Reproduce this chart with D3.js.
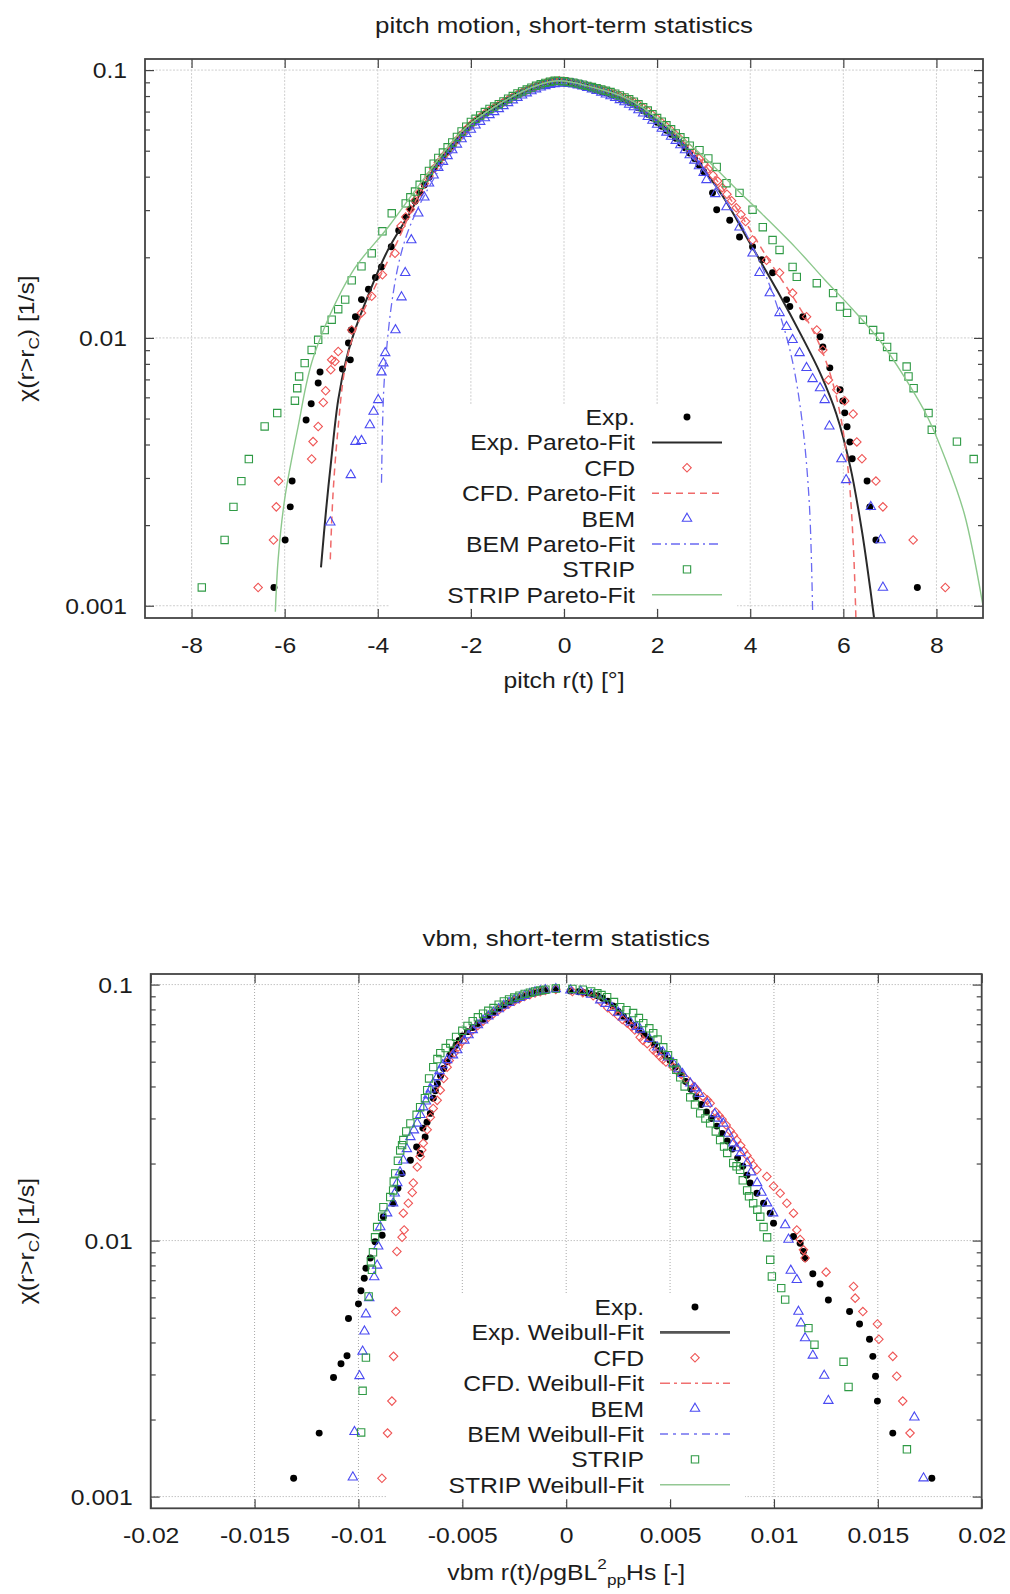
<!DOCTYPE html>
<html>
<head>
<meta charset="utf-8">
<script src="https://cdn.jsdelivr.net/npm/d3@7"></script>
<style>
  body { margin: 0; background: #fff; }
  svg { display: block; }
</style>
</head>
<body>
<svg id="chart" width="1010" height="1594"></svg>
<script>
// ---------------- DATA ----------------
const yDomain = [0.0009, 0.11];
const yMajorTicks = [0.1, 0.01, 0.001];
const yMajorLabels = ["0.1", "0.01", "0.001"];
const yMinorTicks = [0.002, 0.003, 0.004, 0.005, 0.006, 0.007, 0.008, 0.009,
                     0.02, 0.03, 0.04, 0.05, 0.06, 0.07, 0.08, 0.09];

const pitchXTicks = [-8, -6, -4, -2, 0, 2, 4, 6, 8];
const pitchXTickLabels = ["-8", "-6", "-4", "-2", "0", "2", "4", "6", "8"];
const vbmXTicks = [-0.02, -0.015, -0.01, -0.005, 0, 0.005, 0.01, 0.015, 0.02];
const vbmXTickLabels = ["-0.02", "-0.015", "-0.01", "-0.005", "0", "0.005", "0.01", "0.015", "0.02"];

const pitchLegendLabels = ["Exp.", "Exp. Pareto-Fit", "CFD", "CFD. Pareto-Fit", "BEM", "BEM Pareto-Fit", "STRIP", "STRIP Pareto-Fit"];
const vbmLegendLabels = ["Exp.", "Exp. Weibull-Fit", "CFD", "CFD. Weibull-Fit", "BEM", "BEM Weibull-Fit", "STRIP", "STRIP Weibull-Fit"];

// ---- pitch: Exp. (black dots)
const pitchExpX = [-6.23,-5.99,-5.88,-5.84,-5.54,-5.43,-5.28,-5.24,-4.76,-4.63,-4.59,-4.57,-4.48,-4.35,-4.2,-4.05,-3.92,-3.71,-3.55,
  -3.4,-3.2,-3.0,-2.8,-2.6,-2.4,-2.2,-2.0,-1.8,-1.6,-1.4,-1.2,-1.0,-0.8,-0.6,-0.4,-0.2,0.0,0.2,0.4,0.6,0.8,1.0,1.2,1.4,1.6,1.8,2.0,2.2,2.4,2.6,2.8,3.0,
  3.19,3.28,3.56,3.77,4.05,4.25,4.48,4.78,4.85,5.13,5.5,5.56,5.71,5.93,5.99,6.03,6.08,6.14,6.19,6.51,6.57,6.7,7.59,
  -3.3,-3.1,-2.9,-2.7,-2.5,-2.3,-2.1,-1.9,-1.7,-1.5,-1.3,-1.1,-0.9,-0.7,-0.5,-0.3,-0.1,0.1,0.3,0.5,0.7,0.9,1.1,1.3,1.5,1.7,1.9,2.1,2.3,2.5,2.7,2.9];
const pitchExpY = [0.00117,0.00176,0.00234,0.00292,0.00494,0.00568,0.00679,0.00746,0.00766,0.00957,0.00828,0.0107,0.0120,0.0139,0.0152,0.0168,0.0184,0.0219,0.0252,
  0.0282,0.0324,0.0372,0.0427,0.0473,0.0519,0.0575,0.0624,0.0664,0.0705,0.0738,0.0773,0.0809,0.0838,0.0867,0.0891,0.0908,0.0902,0.0887,0.0871,0.0851,0.0832,0.0813,0.0785,0.0759,0.0724,0.0684,0.0638,0.0596,0.0556,0.0513,0.0468,0.0417,
  0.0348,0.0301,0.0275,0.0238,0.0219,0.0196,0.0175,0.0139,0.0131,0.0120,0.0101,0.00925,0.00773,0.00640,0.00582,0.00525,0.00466,0.00409,0.00354,0.00292,0.00234,0.00176,0.00117,
  0.0302,0.0348,0.0398,0.0450,0.0495,0.0546,0.0600,0.0645,0.0686,0.0722,0.0756,0.0792,0.0824,0.0853,0.0880,0.0900,0.0906,0.0895,0.0880,0.0862,0.0842,0.0823,0.0800,0.0773,0.0742,0.0705,0.0662,0.0617,0.0576,0.0534,0.0490,0.0442];

// ---- pitch: CFD (red diamonds)
const pitchCfdX = [-6.57,-6.24,-6.18,-6.13,-5.42,-5.39,-5.28,-5.17,-5.12,-5.01,-4.99,-4.92,-4.85,-4.56,-4.35,-4.13,-3.9,-3.63,
  -3.5,-3.3,-3.1,-2.9,-2.7,-2.5,-2.3,-2.1,-1.9,-1.7,-1.5,-1.3,-1.1,-0.9,-0.7,-0.5,-0.3,-0.1,0.1,0.3,0.5,0.7,0.9,1.1,1.3,1.5,1.7,1.9,2.1,2.3,2.5,2.7,2.9,3.1,3.3,3.5,3.7,3.9,
  4.05,4.35,4.63,4.91,5.21,5.43,5.56,5.68,5.86,6.03,6.21,6.29,6.4,6.7,6.85,7.5,8.19,
  -3.4,-3.2,-3.0,-2.8,-2.6,-2.4,-2.2,-2.0,-1.8,-1.6,-1.4,-1.2,-1.0,-0.8,-0.6,-0.4,-0.2,0.0,0.2,0.4,0.6,0.8,1.0,1.2,1.4,1.6,1.8,2.0,2.2,2.4,2.6,2.8,3.0,3.2,3.4,3.6,3.8];
const pitchCfdY = [0.00117,0.00176,0.00234,0.00292,0.00353,0.0041,0.00467,0.00574,0.00635,0.0076,0.00828,0.00817,0.0089,0.0107,0.0124,0.0143,0.0172,0.0207,
  0.0262,0.0302,0.0350,0.0402,0.0452,0.0497,0.0548,0.0601,0.0646,0.0688,0.0724,0.0758,0.0793,0.0826,0.0855,0.0882,0.0902,0.0912,0.0902,0.0888,0.0872,0.0852,0.0835,0.0812,0.0788,0.0760,0.0724,0.0680,0.0636,0.0595,0.0552,0.0510,0.0468,0.0427,0.0385,0.0344,0.0306,0.0272,
  0.0232,0.0195,0.0175,0.0147,0.0120,0.0107,0.00902,0.00697,0.0064,0.00582,0.0052,0.00409,0.00354,0.00292,0.00234,0.00176,0.00117,
  0.0283,0.0326,0.0377,0.0428,0.0476,0.0522,0.0575,0.0625,0.0668,0.0707,0.0742,0.0776,0.0810,0.0841,0.0869,0.0893,0.0909,0.0908,0.0896,0.0880,0.0862,0.0844,0.0824,0.0800,0.0775,0.0743,0.0703,0.0658,0.0615,0.0574,0.0531,0.0489,0.0447,0.0405,0.0364,0.0325,0.0289];

// ---- pitch: BEM (blue triangles)
const pitchBemX = [-5.02,-4.58,-4.48,-4.35,-4.17,-4.09,-3.99,-3.92,-3.88,-3.84,-3.62,-3.49,-3.41,-3.28,-3.13,-3.0,
  -2.9,-2.7,-2.5,-2.3,-2.1,-1.9,-1.7,-1.5,-1.3,-1.1,-0.9,-0.7,-0.5,-0.3,-0.1,0.1,0.3,0.5,0.7,0.9,1.1,1.3,1.5,1.7,1.9,2.1,2.3,2.5,2.7,2.9,
  3.06,3.25,3.49,3.77,4.05,4.2,4.42,4.63,4.78,4.91,5.06,5.21,5.34,5.5,5.6,5.7,5.96,6.06,6.59,6.8,6.85,
  -2.8,-2.6,-2.4,-2.2,-2.0,-1.8,-1.6,-1.4,-1.2,-1.0,-0.8,-0.6,-0.4,-0.2,0.0,0.2,0.4,0.6,0.8,1.0,1.2,1.4,1.6,1.8,2.0,2.2,2.4,2.6,2.8,3.0];
const pitchBemY = [0.00205,0.00308,0.0041,0.00413,0.00473,0.00531,0.00587,0.00745,0.00805,0.00879,0.0107,0.0142,0.0175,0.0232,0.0292,0.0335,
  0.0378,0.0432,0.0478,0.0528,0.0578,0.0622,0.0662,0.0698,0.0735,0.0772,0.0805,0.0835,0.0862,0.0882,0.0893,0.0890,0.0878,0.0860,0.0838,0.0812,0.0788,0.0760,0.0728,0.0690,0.0648,0.0605,0.0565,0.0525,0.0482,0.0438,
  0.0389,0.0345,0.0308,0.0259,0.0207,0.0175,0.0147,0.0124,0.0110,0.00984,0.00879,0.00773,0.00703,0.0065,0.00587,0.00468,0.00353,0.00295,0.00234,0.00176,0.00117,
  0.0405,0.0455,0.0503,0.0553,0.0600,0.0642,0.0680,0.0716,0.0754,0.0789,0.0820,0.0849,0.0873,0.0888,0.0892,0.0885,0.0870,0.0849,0.0825,0.0800,0.0774,0.0744,0.0709,0.0669,0.0626,0.0585,0.0545,0.0503,0.0460,0.0414];

// ---- pitch: STRIP (green squares)
const pitchStripX = [-7.78,-7.29,-7.1,-6.93,-6.77,-6.43,-6.16,-5.78,-5.73,-5.69,-5.57,-5.42,-5.28,-5.14,-4.99,-4.85,-4.7,-4.56,-4.35,-4.13,-3.9,-3.7,
  -3.4,-3.2,-3.0,-2.8,-2.6,-2.4,-2.2,-2.0,-1.8,-1.6,-1.4,-1.2,-1.0,-0.8,-0.6,-0.4,-0.2,0.0,0.2,0.4,0.6,0.8,1.0,1.2,1.4,1.6,1.8,2.0,2.2,2.4,2.6,
  2.91,3.1,3.28,3.49,3.77,4.05,4.27,4.48,4.63,4.91,5.0,5.43,5.78,5.93,6.08,6.42,6.64,6.79,6.94,7.07,7.36,7.4,7.51,7.83,7.9,8.44,8.8,
  -3.3,-3.1,-2.9,-2.7,-2.5,-2.3,-2.1,-1.9,-1.7,-1.5,-1.3,-1.1,-0.9,-0.7,-0.5,-0.3,-0.1,0.1,0.3,0.5,0.7,0.9,1.1,1.3,1.5,1.7,1.9,2.1,2.3,2.5,2.7];
const pitchStripY = [0.00117,0.00176,0.00234,0.00292,0.00353,0.00467,0.00524,0.00583,0.00649,0.00718,0.00805,0.00902,0.00984,0.0107,0.0117,0.0128,0.0139,0.0164,0.0185,0.0207,0.0250,0.0292,
  0.0318,0.0352,0.0395,0.0447,0.0492,0.0537,0.0590,0.0640,0.0677,0.0716,0.0746,0.0782,0.0818,0.0846,0.0874,0.0896,0.0912,0.0908,0.0898,0.0882,0.0864,0.0846,0.0828,0.0804,0.0778,0.0745,0.0706,0.0662,0.0622,0.0580,0.0542,
  0.0502,0.0468,0.0435,0.0378,0.0348,0.0301,0.0259,0.0232,0.0213,0.0184,0.0169,0.0160,0.0147,0.0131,0.0124,0.0117,0.0107,0.0101,0.00925,0.00849,0.00782,0.00718,0.00649,0.00524,0.00454,0.0041,0.00353,
  0.0335,0.0373,0.0420,0.0470,0.0515,0.0563,0.0615,0.0658,0.0697,0.0731,0.0764,0.0800,0.0832,0.0860,0.0885,0.0904,0.0911,0.0903,0.0890,0.0873,0.0855,0.0837,0.0816,0.0791,0.0762,0.0726,0.0684,0.0642,0.0601,0.0561,0.0522];

// ---- pitch: Pareto fits
const pitchExpFitX = [-5.22,-5.11,-5.0,-4.85,-4.68,-4.53,-4.2,-3.8,-3.3,-2.8,-2.2,-1.5,-0.8,-0.2,0.4,1.0,1.6,2.2,2.8,3.4,4.0,4.6,5.1,5.5,5.85,6.15,6.4,6.58,6.66];
const pitchExpFitY = [0.00139,0.00228,0.0035,0.00587,0.00828,0.0102,0.0145,0.021,0.0295,0.0427,0.0575,0.0722,0.0838,0.0905,0.0871,0.0813,0.0724,0.0596,0.0468,0.034,0.0225,0.0148,0.0102,0.0074,0.0052,0.0033,0.0019,0.00115,0.0009];
const pitchCfdFitX = [-5.02,-4.96,-4.85,-4.71,-4.5,-4.1,-3.6,-3.0,-2.4,-1.6,-0.8,-0.2,0.4,1.2,2.0,2.8,3.6,4.4,5.0,5.4,5.7,5.95,6.12,6.22,6.27];
const pitchCfdFitY = [0.00149,0.00264,0.00466,0.0076,0.0105,0.015,0.0225,0.0375,0.052,0.0708,0.0843,0.091,0.0878,0.080,0.0655,0.049,0.0325,0.0195,0.0135,0.0102,0.0075,0.0050,0.0030,0.0016,0.0009];
const pitchBemFitX = [-3.92,-3.9,-3.87,-3.8,-3.7,-3.55,-3.35,-3.0,-2.5,-1.8,-1.0,-0.3,0.3,1.0,1.8,2.6,3.3,3.8,4.25,4.6,4.9,5.12,5.27,5.34];
const pitchBemFitY = [0.00288,0.0045,0.0065,0.0095,0.0135,0.019,0.025,0.034,0.047,0.0642,0.079,0.0882,0.0882,0.080,0.067,0.0505,0.036,0.0265,0.0185,0.0128,0.0083,0.0048,0.0024,0.00095];
const pitchStripFitX = [-6.2,-6.14,-6.0,-5.71,-5.38,-4.56,-3.77,-3.0,-2.2,-1.4,-0.6,-0.1,0.6,1.4,2.2,3.0,3.7,4.3,5.0,5.6,6.2,6.8,7.3,7.8,8.2,8.6,9.0];
const pitchStripFitY = [0.00095,0.00149,0.0025,0.00467,0.0085,0.0175,0.026,0.0395,0.059,0.0746,0.0874,0.0912,0.0864,0.0778,0.0622,0.0475,0.036,0.0285,0.0215,0.0165,0.0128,0.0097,0.0072,0.0051,0.0035,0.0022,0.001];

// ---- vbm: Exp. (black dots)
const vbmExpX = [-0.01312,-0.01189,-0.0112,-0.01084,-0.01055,-0.01048,-0.0100,-0.00988,-0.00972,-0.00964,-0.00943,-0.0092,-0.00886,-0.0088,-0.00833,-0.0081,-0.0079,-0.0075,-0.00703,-0.00679,-0.00654,
  -0.0064,-0.0062,-0.0059,-0.0056,-0.0053,-0.005,-0.0045,-0.004,-0.0035,-0.003,-0.0025,-0.002,-0.0015,-0.001,-0.0005,
  0.0002,0.0006,0.001,0.0015,0.002,0.0025,0.003,0.0035,0.004,0.0045,0.005,0.0055,0.006,0.0065,0.007,0.0075,0.008,0.0085,0.00885,0.00918,0.0095,0.00982,0.00998,
  0.01094,0.01126,0.01142,0.0115,0.01187,0.01222,0.01262,0.01364,0.01412,0.0146,0.01476,0.01489,0.01498,0.01572,0.0176,
  -0.0072,-0.0069,-0.0067,-0.0063,-0.00605,-0.00575,-0.00545,-0.00515,-0.00475,-0.00425,-0.00375,-0.00325,-0.00275,-0.00225,-0.00175,-0.00125,
  0.0008,0.00125,0.00175,0.00225,0.00275,0.00325,0.00375,0.00425,0.00475,0.00525,0.00575,0.00625,0.00675,0.00725,0.00775,0.00825,0.0087];
const vbmExpY = [0.00118,0.00177,0.00292,0.0033,0.00355,0.00496,0.00566,0.00637,0.00713,0.0078,0.00855,0.0099,0.0105,0.0124,0.0140,0.0160,0.0183,0.0206,0.0219,0.0254,0.0314,
  0.036,0.041,0.047,0.053,0.058,0.063,0.068,0.073,0.078,0.083,0.087,0.090,0.093,0.095,0.096,
  0.0945,0.0938,0.0928,0.0905,0.0862,0.0785,0.0722,0.0665,0.0612,0.0553,0.0505,0.0448,0.0390,0.0340,0.0300,0.0262,0.0228,0.0195,0.0168,0.0153,0.0140,0.0128,0.0117,
  0.01037,0.00977,0.00906,0.00853,0.00742,0.00677,0.00586,0.00528,0.00472,0.00412,0.00353,0.00295,0.00236,0.00177,0.00118,
  0.0232,0.0275,0.0290,0.0385,0.0440,0.0500,0.0555,0.0605,0.0655,0.0705,0.0755,0.0805,0.0850,0.0885,0.0918,0.0940,
  0.0933,0.0918,0.0885,0.0825,0.0752,0.0693,0.0638,0.0582,0.0528,0.0476,0.0418,0.0365,0.0318,0.0280,0.0245,0.0210,0.0180];

// ---- vbm: CFD (red diamonds)
const vbmCfdX = [-0.00887,-0.0086,-0.00839,-0.00831,-0.0082,-0.00815,-0.0079,-0.0078,-0.00784,-0.0076,-0.00741,-0.00736,-0.00717,-0.00703,-0.00688,-0.00669,-0.00654,-0.00621,-0.00606,-0.0059,-0.00573,-0.0054,
  -0.005,-0.0045,-0.004,-0.0035,-0.003,-0.0025,-0.002,-0.0015,-0.001,-0.0005,
  0.0003,0.0008,0.0013,0.002,0.0025,0.00294,0.0033,0.00356,0.0039,0.00419,0.0045,0.0048,0.00515,0.0055,0.00597,0.0063,0.0066,0.00693,0.0072,0.0075,0.0079,0.00821,0.00855,0.00885,0.00918,0.00966,0.00998,0.0103,0.01062,0.01094,0.0111,0.01126,0.01142,0.0115,
  0.01251,0.01383,0.01391,0.01428,0.01498,0.01505,0.01572,0.01591,0.0162,0.01655,
  -0.0052,-0.00475,-0.00425,-0.00375,-0.00325,-0.00275,-0.00225,-0.00175,-0.00125,-0.00563,-0.0064,-0.00695,
  0.00165,0.00225,0.0027,0.00315,0.0037,0.00435,0.00465,0.00535,0.00575,0.00615,0.0068,0.00735,0.0077,0.00805,0.0084,0.0087,0.0090];
const vbmCfdY = [0.00118,0.00177,0.00236,0.00353,0.00528,0.00906,0.0103,0.0110,0.0128,0.0140,0.0154,0.0168,0.0194,0.0213,0.0240,0.0271,0.0303,0.0353,0.0387,0.0430,0.0476,0.0540,
  0.0600,0.0665,0.0720,0.0770,0.0820,0.0862,0.0898,0.0928,0.0948,0.0958,
  0.0940,0.0930,0.0905,0.0812,0.0755,0.0707,0.0665,0.0623,0.0588,0.0555,0.0525,0.0498,0.0476,0.0448,0.0412,0.0387,0.0365,0.0344,0.0318,0.0298,0.0268,0.0247,0.0224,0.0206,0.0189,0.0178,0.0163,0.0153,0.0140,0.0128,0.0110,0.0101,0.0092,0.00855,
  0.00753,0.00662,0.00596,0.00528,0.00472,0.00412,0.00353,0.00295,0.00236,0.00177,
  0.0570,0.0632,0.0692,0.0745,0.0795,0.0842,0.0880,0.0913,0.0938,0.0505,0.0328,0.0226,
  0.0860,0.0785,0.0730,0.0685,0.0605,0.0540,0.0510,0.0460,0.0430,0.0400,0.0354,0.0308,0.0283,0.0258,0.0235,0.0215,0.0197];

// ---- vbm: BEM (blue triangles)
const vbmBemX = [-0.01027,-0.01019,-0.00995,-0.0098,-0.00971,-0.00964,-0.00948,-0.00924,-0.0091,-0.00905,-0.00895,-0.00862,-0.00833,-0.00813,-0.00784,-0.0075,-0.00717,-0.00688,-0.00664,-0.0064,-0.0061,-0.00573,-0.00525,
  -0.0049,-0.0045,-0.004,-0.0035,-0.003,-0.0025,-0.002,-0.0015,-0.001,-0.0005,
  0.0002,0.0007,0.00164,0.0022,0.00274,0.00356,0.00438,0.0049,0.00515,0.00597,0.0064,0.00679,0.00715,0.00756,0.00804,0.0084,0.00871,0.00919,0.00967,0.00996,0.01054,0.0107,
  0.01081,0.0111,0.01118,0.0113,0.0115,0.01187,0.01242,0.01262,0.01676,0.0172,
  -0.00545,-0.00595,-0.0062,-0.00652,-0.00675,-0.00702,-0.00733,-0.00767,-0.008,-0.00825,-0.0047,-0.00425,-0.00375,-0.00325,-0.00275,-0.00225,-0.00175,-0.00125,
  0.0012,0.0019,0.0025,0.0031,0.0034,0.0040,0.00465,0.0054,0.0056,0.0062,0.0073,0.0078,0.0082,0.0089,0.0094];
const vbmBemY = [0.00119,0.00179,0.00296,0.00369,0.00442,0.00516,0.00597,0.0072,0.0080,0.0095,0.0113,0.0128,0.0140,0.0168,0.0206,0.0254,0.0287,0.0332,0.0370,0.0412,0.046,0.0508,0.0555,
  0.0605,0.0665,0.0725,0.0778,0.0828,0.0870,0.0905,0.0935,0.0952,0.0962,
  0.0950,0.0940,0.0869,0.0812,0.0745,0.0668,0.0569,0.0520,0.0493,0.0412,0.0375,0.0343,0.0312,0.0287,0.0240,0.0220,0.0201,0.0168,0.0140,0.0128,0.0115,0.0101,
  0.00764,0.00703,0.00528,0.00476,0.00416,0.00356,0.00297,0.00237,0.00204,0.00118,
  0.0530,0.0485,0.0436,0.0390,0.0350,0.0310,0.0270,0.0228,0.0185,0.0153,0.0635,0.0695,0.0752,0.0803,0.0850,0.0888,0.0920,0.0944,
  0.0915,0.0842,0.0778,0.0712,0.0685,0.0615,0.0545,0.0468,0.0448,0.0394,0.0300,0.0262,0.0230,0.0185,0.0154];

// ---- vbm: STRIP (green squares)
const vbmStripX = [-0.00987,-0.0098,-0.00964,-0.00951,-0.00935,-0.0094,-0.0093,-0.0092,-0.0091,-0.00886,-0.0088,-0.00847,-0.00833,-0.00823,-0.00799,-0.00784,-0.0075,-0.00703,-0.00669,-0.0064,-0.00606,-0.00558,
  -0.005,-0.0045,-0.004,-0.0035,-0.003,-0.0025,-0.002,-0.0015,-0.001,-0.0005,
  0.0003,0.0008,0.0015,0.00197,0.0026,0.00322,0.00371,0.00419,0.00467,0.00515,0.00549,0.00597,0.00645,0.00693,0.00741,0.00775,0.00804,0.00837,0.00871,0.0090,0.00934,0.00967,
  0.00982,0.0099,0.01035,0.01054,0.01166,0.01195,0.01335,0.01359,0.0164,
  -0.0053,-0.0058,-0.0062,-0.0066,-0.0068,-0.0072,-0.0077,-0.0079,-0.0081,-0.0083,-0.00475,-0.00425,-0.00375,-0.00325,-0.00275,-0.00225,-0.00175,-0.00125,
  0.0012,0.0017,0.0023,0.0029,0.0035,0.0040,0.0044,0.0049,0.0053,0.0057,0.0062,0.0067,0.0072,0.0076,0.0082,0.0085,0.0088,0.0092,0.0095];
const vbmStripY = [0.00178,0.00259,0.00349,0.00605,0.00769,0.0083,0.0090,0.0103,0.0113,0.0124,0.0135,0.0148,0.0157,0.0183,0.0225,0.0247,0.0287,0.0332,0.0387,0.0476,0.0540,0.0589,
  0.0660,0.0720,0.0770,0.0810,0.0860,0.0890,0.0920,0.0940,0.0955,0.0965,
  0.0962,0.0955,0.0925,0.0893,0.0816,0.0774,0.0707,0.0646,0.0569,0.0493,0.0434,0.0363,0.0314,0.0287,0.0247,0.0220,0.0201,0.0189,0.0157,0.0140,0.0124,0.0103,
  0.00841,0.00724,0.00652,0.00588,0.00455,0.00392,0.00336,0.00268,0.00153,
  0.0625,0.0565,0.0512,0.0430,0.0360,0.0310,0.0267,0.0236,0.0205,0.0170,0.0690,0.0745,0.0790,0.0835,0.0875,0.0905,0.0930,0.0948,
  0.0940,0.0910,0.0855,0.0795,0.0740,0.0675,0.0610,0.0530,0.0465,0.0400,0.0340,0.0300,0.0267,0.0233,0.0195,0.0172,0.0149,0.0132,0.0113];

// ---------------- DRAWING ----------------
const K = 1.15; // horizontal stretch of the lettering
const FONT = '"Liberation Sans", Arial, Helvetica, sans-serif';
const TEXT_COLOR = "#1c1c1c";
const svg = d3.select("#chart");

const STYLE = {
  exp:   { kind: "dot",      color: "#000000" },
  cfd:   { kind: "diamond",  color: "#ef5656" },
  bem:   { kind: "triangle", color: "#4a4af2" },
  strip: { kind: "square",   color: "#2f9a45" }
};
const FIT_STYLE = {
  pitch: [
    { color: "#2a2a2a", width: 2.0, dash: null },
    { color: "#f06a6a", width: 1.5, dash: "7,5" },
    { color: "#6a6af2", width: 1.3, dash: "9,4,2,4" },
    { color: "#8cc88c", width: 1.4, dash: null }
  ],
  vbm: [
    { color: "#555555", width: 2.6, dash: null },
    { color: "#f07070", width: 1.6, dash: "10,4,3,4" },
    { color: "#7070f0", width: 1.6, dash: "8,5,3,5" },
    { color: "#94c894", width: 1.6, dash: null }
  ]
};

function symbolPath(kind) {
  if (kind === "dot") return d3.symbol(d3.symbolCircle, 38)();
  if (kind === "square") return d3.symbol(d3.symbolSquare, 54)();
  if (kind === "triangle") return d3.symbol(d3.symbolTriangle, 38)();
  if (kind === "diamond") return d3.symbol(d3.symbolSquare, 36)();
}
function styleSymbol(sel, st) {
  sel.attr("d", symbolPath(st.kind));
  if (st.kind === "dot") sel.attr("fill", st.color).attr("stroke", "none");
  else sel.attr("fill", "none").attr("stroke", st.color).attr("stroke-width", 1.1);
}
function symTransform(px, py, kind) {
  return `translate(${px},${py})` + (kind === "diamond" ? " rotate(45)" : "");
}

function addText(g, str, px, py, size, anchor, rotate) {
  const t = g.append("text")
    .attr("font-family", FONT).attr("font-size", size)
    .attr("fill", TEXT_COLOR).attr("text-anchor", anchor)
    .attr("transform", `translate(${px},${py})` + (rotate ? ` rotate(${rotate})` : "") + ` scale(${K},1)`);
  if (str !== null) t.text(str);
  return t;
}

function drawPanel(p) {
  const x = d3.scaleLinear().domain(p.xDomain).range([p.left, p.right]);
  const y = d3.scaleLog().domain(yDomain).range([p.bottom, p.top]);
  const g = svg.append("g");
  const clipId = "clip-" + p.id;
  g.append("clipPath").attr("id", clipId).append("rect")
    .attr("x", p.left).attr("y", p.top).attr("width", p.right - p.left).attr("height", p.bottom - p.top);

  addText(g, p.title, (p.left + p.right) / 2, p.titleY, 22.5, "middle");

  const grid = g.append("g").attr("stroke", p.gridColor).attr("stroke-width", 1).attr("stroke-dasharray", p.gridDash);
  grid.selectAll("line.gx").data(p.xTicks.filter(v => v > p.xDomain[0] && v < p.xDomain[1])).join("line")
    .attr("class", "gx").attr("x1", d => x(d)).attr("x2", d => x(d)).attr("y1", p.top).attr("y2", p.bottom);
  grid.selectAll("line.gy").data(yMajorTicks).join("line")
    .attr("class", "gy").attr("x1", p.left).attr("x2", p.right).attr("y1", d => y(d)).attr("y2", d => y(d));

  g.append("rect").attr("x", p.legend.box[0]).attr("y", p.legend.box[1])
    .attr("width", p.legend.box[2]).attr("height", p.legend.box[3]).attr("fill", "#fff");

  const plot = g.append("g").attr("clip-path", `url(#${clipId})`);
  const line = d3.line().x(d => x(d[0])).y(d => y(d[1])).curve(d3.curveCatmullRom.alpha(0.5));
  p.series.forEach((s, i) => {
    const st = STYLE[s.key];
    const pts = s.xs.map((v, j) => [v, s.ys[j]]);
    plot.append("g").selectAll("path").data(pts).join("path")
      .attr("transform", d => symTransform(x(d[0]), y(d[1]), st.kind))
      .call(sel => styleSymbol(sel, st));
    if (s.fitX) {
      const fs = FIT_STYLE[p.id][i];
      plot.append("path").datum(s.fitX.map((v, j) => [v, s.fitY[j]]))
        .attr("d", line).attr("fill", "none").attr("stroke", fs.color)
        .attr("stroke-width", fs.width).attr("stroke-dasharray", fs.dash);
    }
  });

  const tickColor = "#444";
  function styleAxis(ag) {
    ag.attr("font-size", null).attr("font-family", null);
    ag.select(".domain").remove();
    ag.selectAll("line").attr("stroke", tickColor).attr("stroke-width", 1.2);
  }
  const axB = g.append("g").attr("transform", `translate(0,${p.bottom})`)
    .call(d3.axisBottom(x).tickValues(p.xTicks).tickFormat((d, i) => p.xTickLabels[i]).tickSize(-9));
  styleAxis(axB);
  axB.selectAll("text").attr("y", null).attr("dy", null)
    .attr("font-family", FONT).attr("font-size", 21.5).attr("fill", TEXT_COLOR)
    .attr("transform", `translate(0,35) scale(${K},1)`);
  const axT = g.append("g").attr("transform", `translate(0,${p.top})`)
    .call(d3.axisTop(x).tickValues(p.xTicks).tickFormat("").tickSize(-9));
  styleAxis(axT);
  const axL = g.append("g").attr("transform", `translate(${p.left},0)`)
    .call(d3.axisLeft(y).tickValues(yMajorTicks).tickFormat((d, i) => yMajorLabels[i]).tickSize(-9));
  styleAxis(axL);
  axL.selectAll("text").attr("x", null).attr("dy", "0.35em")
    .attr("font-family", FONT).attr("font-size", 21.5).attr("fill", TEXT_COLOR)
    .attr("transform", `translate(-18,0) scale(${K},1)`);
  const axLm = g.append("g").attr("transform", `translate(${p.left},0)`)
    .call(d3.axisLeft(y).tickValues(yMinorTicks).tickFormat("").tickSize(-5));
  styleAxis(axLm);
  const axR = g.append("g").attr("transform", `translate(${p.right},0)`)
    .call(d3.axisRight(y).tickValues(yMajorTicks).tickFormat("").tickSize(-9));
  styleAxis(axR);
  const axRm = g.append("g").attr("transform", `translate(${p.right},0)`)
    .call(d3.axisRight(y).tickValues(yMinorTicks).tickFormat("").tickSize(-5));
  styleAxis(axRm);

  g.append("rect").attr("x", p.left).attr("y", p.top).attr("width", p.right - p.left).attr("height", p.bottom - p.top)
    .attr("fill", "none").attr("stroke", "#444").attr("stroke-width", 1.8);

  const yl = addText(g, null, 34, (p.top + p.bottom) / 2, 21.5, "middle", -90);
  yl.append("tspan").text("\u03C7(r>r");
  yl.append("tspan").attr("font-size", 15).attr("dy", 5).text("C");
  yl.append("tspan").attr("dy", -5).text(") [1/s]");
  p.xLabel(g, (p.left + p.right) / 2, p.xLabelY);

  const L = p.legend;
  p.legendLabels.forEach((lab, i) => {
    const by = L.firstBaseline + i * L.rowH;
    addText(g, lab, L.textRight, by, 21.5, "end");
    const sy = by - 8;
    const sIdx = Math.floor(i / 2);
    if (i % 2 === 0) {
      const st = STYLE[p.series[sIdx].key];
      g.append("path").attr("transform", symTransform(L.symX, sy, st.kind)).call(sel => styleSymbol(sel, st));
    } else {
      const fs = FIT_STYLE[p.id][sIdx];
      g.append("line").attr("x1", L.x1).attr("x2", L.x2).attr("y1", sy).attr("y2", sy)
        .attr("stroke", fs.color).attr("stroke-width", fs.width).attr("stroke-dasharray", fs.dash);
    }
  });
}

drawPanel({
  id: "pitch",
  title: "pitch motion, short-term statistics", titleY: 33,
  left: 145, right: 983, top: 59, bottom: 618,
  xDomain: [-9, 9], xTicks: pitchXTicks, xTickLabels: pitchXTickLabels,
  gridColor: "#cfcfcf", gridDash: "2,1.5",
  xLabelY: 688,
  xLabel: (g, cx, cy) => { addText(g, "pitch r(t) [\u00B0]", cx, cy, 21.5, "middle"); },
  legendLabels: pitchLegendLabels,
  legend: { box: [390, 404, 347, 204], textRight: 635, firstBaseline: 425, rowH: 25.4, x1: 652, x2: 722, symX: 687 },
  series: [
    { key: "exp", xs: pitchExpX, ys: pitchExpY, fitX: pitchExpFitX, fitY: pitchExpFitY },
    { key: "cfd", xs: pitchCfdX, ys: pitchCfdY, fitX: pitchCfdFitX, fitY: pitchCfdFitY },
    { key: "bem", xs: pitchBemX, ys: pitchBemY, fitX: pitchBemFitX, fitY: pitchBemFitY },
    { key: "strip", xs: pitchStripX, ys: pitchStripY, fitX: pitchStripFitX, fitY: pitchStripFitY }
  ]
});

drawPanel({
  id: "vbm",
  title: "vbm, short-term statistics", titleY: 946,
  left: 150.7, right: 981.7, top: 974, bottom: 1508.3,
  xDomain: [-0.02, 0.02], xTicks: vbmXTicks, xTickLabels: vbmXTickLabels,
  gridColor: "#a8a8a8", gridDash: "1,2",
  xLabelY: 1580,
  xLabel: (g, cx, cy) => {
    const t = addText(g, null, cx, cy, 21.5, "middle");
    t.append("tspan").text("vbm r(t)/\u03C1gBL");
    t.append("tspan").attr("font-size", 15).attr("dy", -11).text("2");
    t.append("tspan").attr("font-size", 15).attr("dy", 16).text("pp");
    t.append("tspan").attr("dy", -5).text("Hs [-]");
  },
  legendLabels: vbmLegendLabels,
  legend: { box: [387, 1294, 358, 206], textRight: 644, firstBaseline: 1315, rowH: 25.4, x1: 660, x2: 730, symX: 695 },
  series: [
    { key: "exp", xs: vbmExpX, ys: vbmExpY },
    { key: "cfd", xs: vbmCfdX, ys: vbmCfdY },
    { key: "bem", xs: vbmBemX, ys: vbmBemY },
    { key: "strip", xs: vbmStripX, ys: vbmStripY }
  ]
});
</script>
</body>
</html>
